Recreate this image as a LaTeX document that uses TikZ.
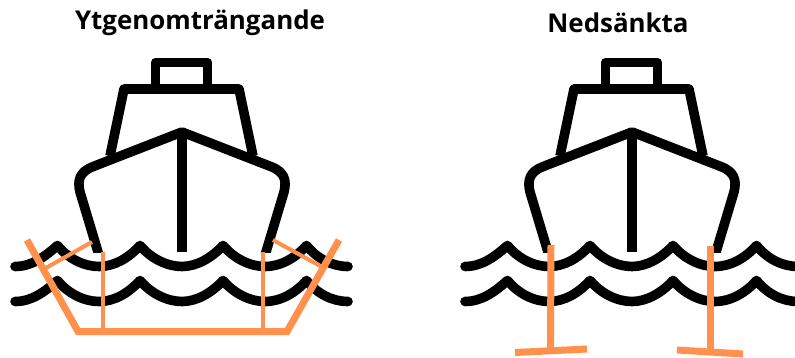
\documentclass[tikz,border=0pt]{standalone}
\usepackage{fontspec}
\setmainfont{Open Sans}
\definecolor{foil}{HTML}{FF914D}
\tikzset{
  boatline/.style={draw=black,line width=9.6pt,line join=round},
  wave/.style={draw=black,line width=9.6pt,line join=round,line cap=round},
  foilthick/.style={draw=foil,line width=7pt,line join=miter},
  foilthin/.style={draw=foil,line width=4pt},
  heading/.style={font=\fontsize{25.9}{30}\selectfont\bfseries,text=black,inner sep=0pt,anchor=center}
}
\newcommand{\wavepath}[1]{%
  \draw[wave] (15,#1) .. controls (32,#1) and (45,#1-10) .. (57.5,#1-21)
    .. controls (68,#1-8) and (84,#1) .. (99,#1)
    .. controls (115,#1) and (129,#1-9) .. (140,#1-21)
    .. controls (151,#1-8) and (167,#1) .. (182,#1)
    .. controls (197,#1) and (212,#1-9) .. (223,#1-21)
    .. controls (234,#1-8) and (250,#1) .. (265,#1)
    .. controls (281,#1) and (296,#1-9) .. (306.5,#1-21)
    .. controls (317,#1-8) and (332,#1) .. (348,#1);}
\newcommand{\boat}{%
  \draw[boatline] (155.5,88) -- (155.5,62.5) -- (207.5,62.5) -- (207.5,88);
  \draw[boatline] (110,156) -- (124,89) -- (239,89) -- (253,156);
  \begin{scope}
  \clip (0,0) rectangle (400,252);
  \draw[boatline] (99.5,257) -- (80,192) .. controls (77,180) and (80,172) .. (92,167)
    -- (182,132) -- (272,167) .. controls (284,172) and (287,180) .. (284,192) -- (264.5,257);
  \draw[boatline] (181.7,132) -- (181.7,252);
  \end{scope}
  \wavepath{266.5}
  \wavepath{301.5}}
\begin{document}
\begin{tikzpicture}[x=1pt,y=-1pt]
\useasboundingbox (0,0) rectangle (795,358);
\node[heading] (t1) at (200,23) {Ytgenomträngande};
\node[heading] (t2) at (618,23) {Nedsänkta};
\boat
\draw[foilthin] (92,242) -- (45,268.5);
\draw[foilthin] (273,240) -- (322,267);
\draw[foilthin] (103,252) -- (103,331);
\draw[foilthin] (263,252) -- (263,331);
\draw[foilthick] (27,240) -- (78,331.5) -- (287,331.5) -- (339,240);
\begin{scope}[xshift=450pt]
\boat
\end{scope}
\draw[foilthick] (551,245) -- (550.5,350);
\draw[foilthick] (515,352.5) -- (587,349);
\draw[foilthick] (710,246) -- (710,351);
\draw[foilthick] (677,350) -- (743,354);
\end{tikzpicture}
\end{document}
